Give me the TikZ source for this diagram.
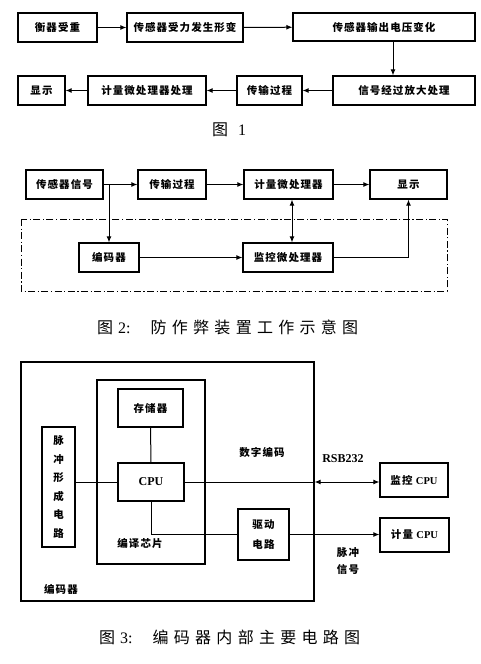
\documentclass[tikz,border=0pt]{standalone}
\usepackage{fontspec}
\setmainfont{Noto Sans CJK SC}
\newfontfamily\lat{Liberation Serif}
\newfontfamily\boxfont[LetterSpace=10]{Noto Sans CJK SC}
\newfontfamily\capfont[LetterSpace=33]{Noto Sans CJK SC}
\usetikzlibrary{arrows.meta}
\newcommand{\boxtext}{\boxfont\bfseries\fontsize{10.5}{12}\selectfont}
\newcommand{\captext}{\capfont\fontsize{16}{18}\selectfont}

\begin{document}
\begin{tikzpicture}[x=1pt, y=-1pt,
  box/.style={draw, line width=1.2pt, inner sep=0pt, minimum height=29pt, font=\boxtext},
  frame/.style={draw, line width=1.2pt, inner sep=0pt},
  arr/.style={-{Latex[length=6pt,width=5pt]}, line width=1pt},
  darr/.style={{Latex[length=6pt,width=5pt]}-{Latex[length=6pt,width=5pt]}, line width=1pt},
  wire/.style={line width=1pt},
  lbl/.style={inner sep=0pt, font=\boxtext},
  figcap/.style={inner sep=0pt, anchor=west, font=\captext}]
\useasboundingbox (0,0) rectangle (481,664);

% ---- 图 1 ----
\node[box, minimum width=79pt]  (a1) at (57.5,27.5) {衡器受重};
\node[box, minimum width=116pt] (a2) at (185,27.5) {传感器受力发生形变};
\node[box, minimum width=182pt, minimum height=28pt] (a3) at (384,27) {传感器输出电压变化};
\node[box, minimum width=142pt] (a4) at (404,90.5) {信号经过放大处理};
\node[box, minimum width=65pt]  (a5) at (269.5,90.5) {传输过程};
\node[box, minimum width=118pt] (a6) at (147,90.5) {计量微处理器处理};
\node[box, minimum width=47pt]  (a7) at (41.5,90.5) {显示};
\draw[arr] (a1) -- (a2);
\draw[arr] (a2) -- (a3);
\draw[arr] ([xshift=9pt]a3.south) -- ([xshift=9pt]a3.south |- a4.north);
\draw[arr] (a4) -- (a5);
\draw[arr] (a5) -- (a6);
\draw[arr] (a6) -- (a7);
\node[figcap] (cap1) at (212,130) {图\hspace{10pt}\lat 1};

% ---- 图 2 ----
\draw[line width=1pt, dash pattern=on 7pt off 2.5pt on 1.2pt off 2.5pt] (21,219) rectangle (447,291);
\node[box, minimum width=77pt] (b1) at (64.5,184.5) {传感器信号};
\node[box, minimum width=68pt] (b2) at (172,184.5) {传输过程};
\node[box, minimum width=89pt] (b3) at (288.5,184.5) {计量微处理器};
\node[box, minimum width=77pt] (b4) at (408.5,184.5) {显示};
\node[box, minimum width=60pt] (b5) at (109,257.5) {编码器};
\node[box, minimum width=90pt] (b6) at (288,257.5) {监控微处理器};
\coordinate (split) at (b5.north |- b1.east);
\draw[arr] (b1) -- (b2);
\draw[arr] (split) -- (b5.north);
\draw[arr] (b2) -- (b3);
\draw[arr] (b3) -- (b4);
\draw[arr] (b5) -- (b6);
\draw[darr] ([xshift=3.5pt]b3.south) -- ([xshift=3.5pt]b3.south |- b6.north);
\draw[arr] (b6.east) -| (b4.south);
\node[figcap] (cap2) at (97,327) {图\hspace{5pt}{\lat 2:}\hspace{20pt}防作弊装置工作示意图};

% ---- 图 3 ----
\node[frame, minimum width=293pt, minimum height=239pt] (enc) at (167.5,481.5) {};
\node[frame, minimum width=108pt, minimum height=184pt] (chip) at (151,472) {};
\node[box, minimum width=65pt, minimum height=38pt] (mem) at (150.5,408) {存储器};
\node[box, minimum width=66pt, minimum height=38pt, font=\lat\bfseries\fontsize{12}{13}\selectfont] (cpu) at (151,482) {CPU};
\node[box, minimum width=33pt, minimum height=120pt, align=center, font=\boxfont\bfseries\fontsize{10.5}{18.5}\selectfont] (pulse) at (58.5,487) {脉\\冲\\形\\成\\电\\路};
\node[box, minimum width=51pt, minimum height=51pt, align=center, font=\boxfont\bfseries\fontsize{10.5}{20}\selectfont] (drv) at (263.5,534.5) {驱动\\电路};
\node[box, minimum width=68pt, minimum height=34pt] (mon) at (414,480) {监控 {\lat\bfseries CPU}};
\node[box, minimum width=69pt, minimum height=34pt] (met) at (414.5,535) {计量 {\lat\bfseries CPU}};
\coordinate (port) at (cpu.east -| enc.east);
\draw[wire] (pulse.east |- cpu.west) -- (cpu.west);
\draw[wire] (mem) -- (cpu);
\draw[wire] (cpu.south) |- (drv.west);
\draw[wire] (cpu.east) -- (port);
\draw[darr] (port) -- (port -| mon.west);
\draw[arr] (drv.east) -- (drv.east -| met.west);
\node[lbl] (code) at (262,452) {数字编码};
\node[lbl, font=\lat\bfseries\fontsize{12}{13}\selectfont] (rs) at (343,459) {RSB232};
\node[lbl] (chiplbl) at (140,543) {编译芯片};
\node[lbl, align=center, font=\boxfont\bfseries\fontsize{10.5}{17}\selectfont] (sig) at (348,561) {脉冲\\信号};
\node[lbl] (enclbl) at (61,589) {编码器};
\node[figcap] (cap3) at (99,637) {图\hspace{5pt}{\lat 3:}\hspace{20pt}编码器内部主要电路图};
\end{tikzpicture}
\end{document}
